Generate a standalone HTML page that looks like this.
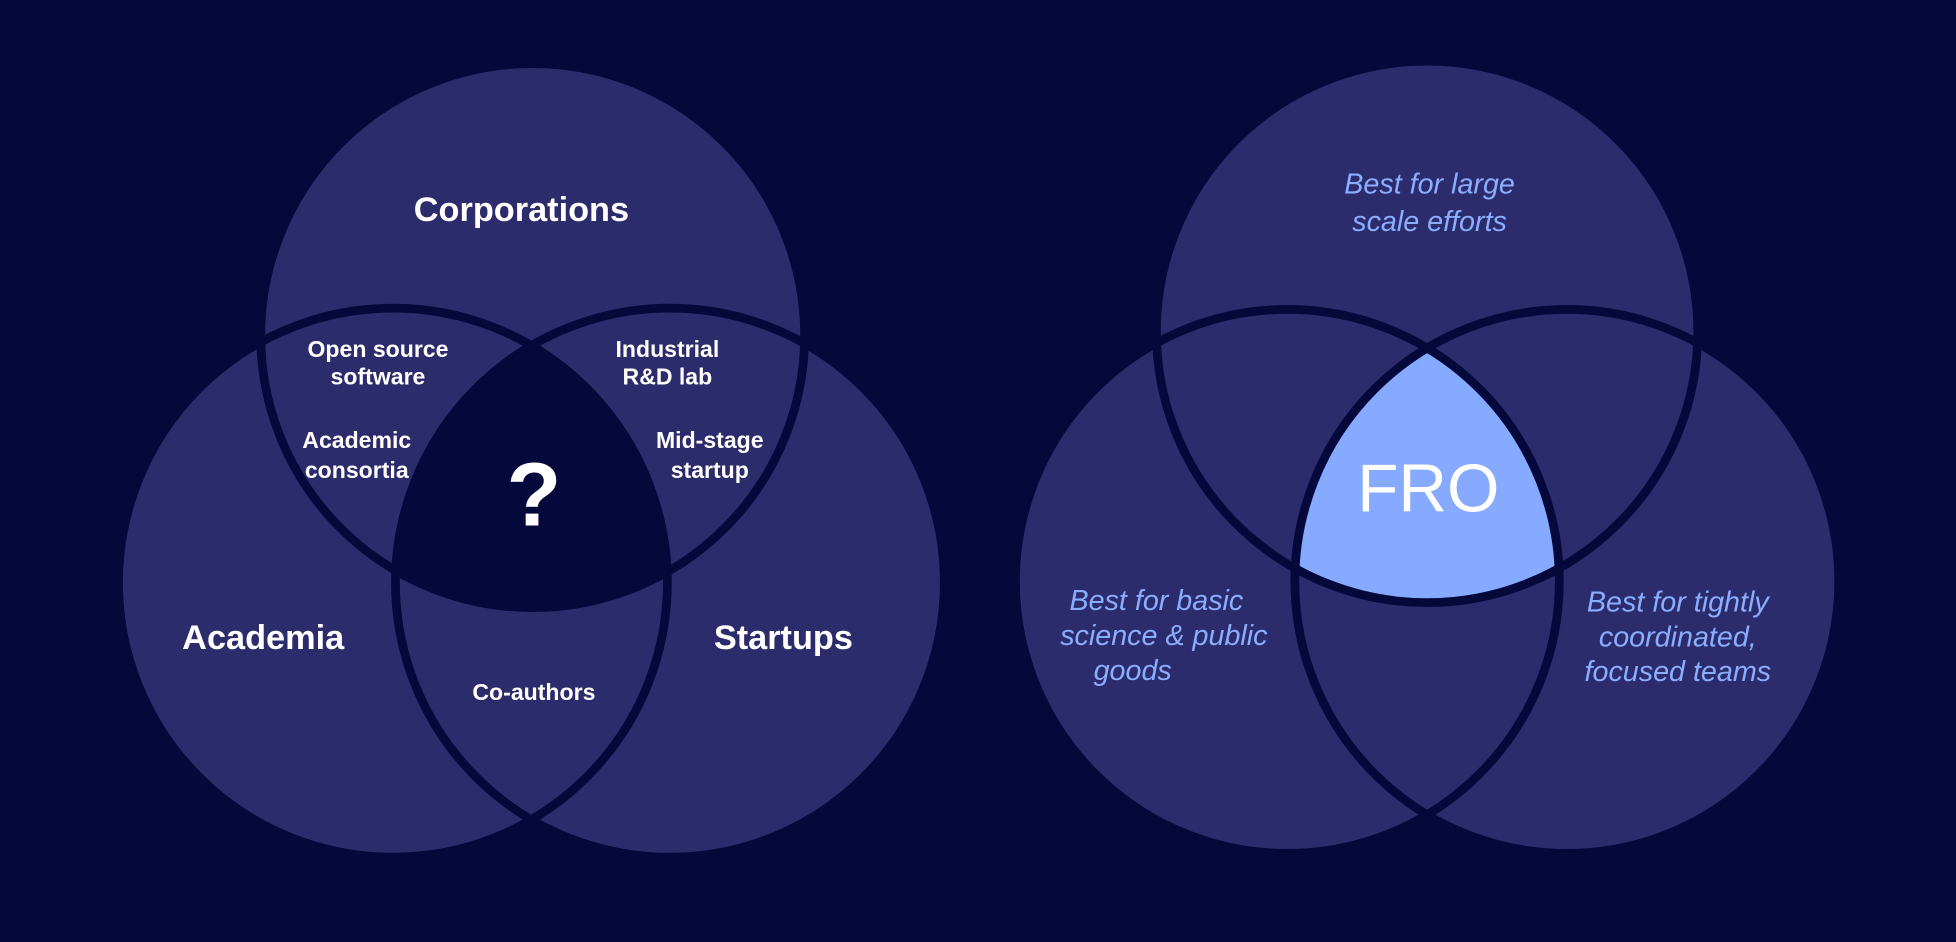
<!DOCTYPE html>
<html><head><meta charset="utf-8"><style>
html,body{margin:0;padding:0;background:#04083a;width:1956px;height:942px;overflow:hidden}
svg{display:block}
text{font-family:"Liberation Sans",Arial,sans-serif}
.b{font-weight:bold;fill:#fff;text-anchor:middle}
.i{font-style:italic;fill:#8aaeff;text-anchor:middle;font-size:23px}
</style></head><body>
<svg width="1956" height="942" viewBox="0 0 1568 755" preserveAspectRatio="none">
<rect width="1568" height="755" fill="#04083a"/>
<defs>
<clipPath id="cL1"><circle cx="315" cy="467" r="220"/></clipPath>
<clipPath id="cL2"><circle cx="537" cy="467" r="220"/></clipPath>
<clipPath id="cR1"><circle cx="1032" cy="466" r="218"/></clipPath>
<clipPath id="cR2"><circle cx="1256" cy="466" r="218"/></clipPath>
</defs>
<g fill="#2c2c6c">
<circle cx="427" cy="269" r="218"/>
<circle cx="315" cy="467" r="220"/>
<circle cx="537" cy="467" r="220"/>
</g>
<g clip-path="url(#cL1)"><g clip-path="url(#cL2)"><circle cx="427" cy="269" r="218" fill="#04083a"/></g></g>
<g fill="none" stroke="#04083a" stroke-width="7">
<circle cx="427" cy="269" r="218"/>
<circle cx="315" cy="467" r="220"/>
<circle cx="537" cy="467" r="220"/>
</g>
<text class="b" x="418" y="177" font-size="27.5">Corporations</text>
<text class="b" x="303" y="286" font-size="18.5">Open source</text>
<text class="b" x="303" y="308" font-size="18.5">software</text>
<text class="b" x="286" y="359" font-size="18.5">Academic</text>
<text class="b" x="286" y="383" font-size="18.5">consortia</text>
<text class="b" x="535" y="286" font-size="18.5">Industrial</text>
<text class="b" x="535" y="308" font-size="18.5">R&amp;D lab</text>
<text class="b" x="569" y="359" font-size="18.5">Mid-stage</text>
<text class="b" x="569" y="383" font-size="18.5">startup</text>
<text class="b" x="428" y="421" font-size="72">?</text>
<text class="b" x="211" y="520" font-size="27.5">Academia</text>
<text class="b" x="628" y="520" font-size="27.5">Startups</text>
<text class="b" x="428" y="561" font-size="18.5">Co-authors</text>
<g fill="#2c2c6c">
<circle cx="1144" cy="266" r="217"/>
<circle cx="1032" cy="466" r="218"/>
<circle cx="1256" cy="466" r="218"/>
</g>
<g clip-path="url(#cR1)"><g clip-path="url(#cR2)"><circle cx="1144" cy="266" r="217" fill="#85aaff"/></g></g>
<g fill="none" stroke="#04083a" stroke-width="7">
<circle cx="1144" cy="266" r="217"/>
<circle cx="1032" cy="466" r="218"/>
<circle cx="1256" cy="466" r="218"/>
</g>
<text class="i" x="1146" y="155">Best for large</text>
<text class="i" x="1146" y="185">scale efforts</text>
<text x="1145" y="410" font-size="54" fill="#fff" text-anchor="middle">FRO</text>
<text class="i" x="927" y="489">Best for basic</text>
<text class="i" x="933" y="517">science &amp; public</text>
<text class="i" x="908" y="545">goods</text>
<text class="i" x="1345" y="490">Best for tightly</text>
<text class="i" x="1345" y="518">coordinated,</text>
<text class="i" x="1345" y="546">focused teams</text>
</svg>
</body></html>
